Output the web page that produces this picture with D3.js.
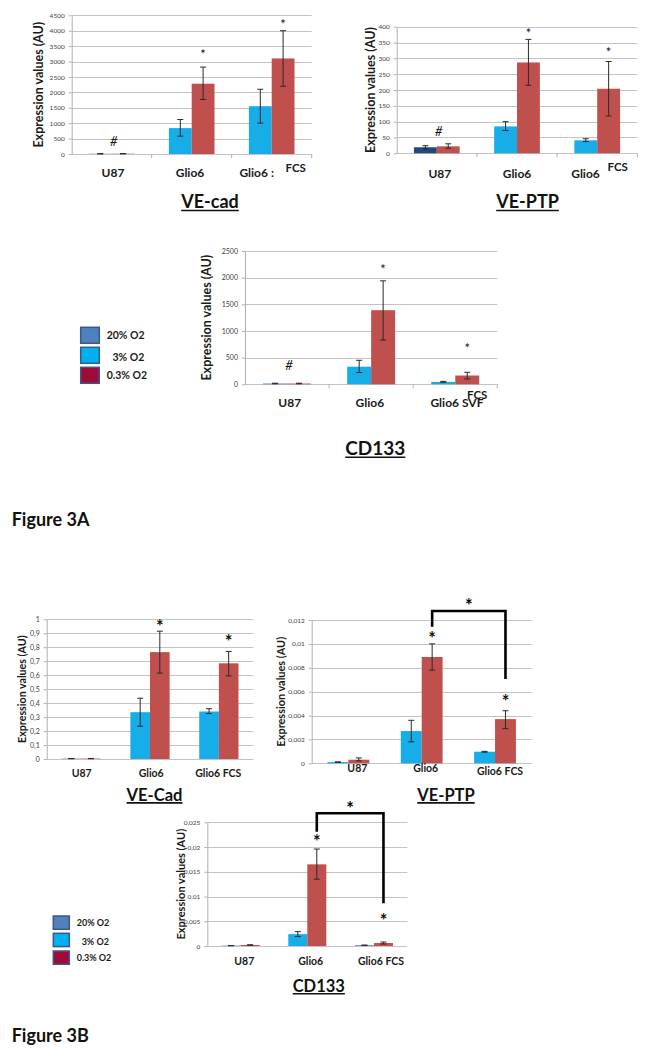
<!DOCTYPE html>
<html>
<head>
<meta charset="utf-8">
<script src="https://cdn.jsdelivr.net/npm/d3@7"></script>
<style>
  body { margin: 0; background: #fff; }
  svg { display: block; }
</style>
</head>
<body>
<div id="fig"></div>
<script>
// categories shared by every panel
const categories = ["U87", "Glio6", "Glio6 FCS"];
const legendLabels = ["20% O2", "3% O2", "0.3% O2"];

// ---------- Figure 3A ----------
// VE-cad
const veCadA_ticks = [0, 500, 1000, 1500, 2000, 2500, 3000, 3500, 4000, 4500];
const veCadA_tickLabels = ["0", "500", "1000", "1500", "2000", "2500", "3000", "3500", "4000", "4500"];
const veCadA_first = [8, 840, 1550];
const veCadA_firstErr = [[4, 12], [580, 1120], [1000, 2100]];
const veCadA_red = [10, 2280, 3100];
const veCadA_redErr = [[5, 15], [1770, 2820], [2200, 4000]];
const veCadA_marks = ["#", "*", "*"];
const veCadA_markY = [400, 3320, 4290];
const veCadA_labels = ["U87", "Glio6", "Glio6 :"];

// VE-PTP
const vePtpA_ticks = [0, 50, 100, 150, 200, 250, 300, 350, 400];
const vePtpA_tickLabels = ["0", "50", "100", "150", "200", "250", "300", "350", "400"];
const vePtpA_first = [19, 85, 41];
const vePtpA_firstErr = [[14, 24], [72, 100], [37, 46]];
const vePtpA_red = [22, 287, 204];
const vePtpA_redErr = [[16, 30], [215, 360], [118, 290]];
const vePtpA_marks = ["#", "*", "*"];
const vePtpA_markY = [70, 387, 326];
const vePtpA_labels = ["U87", "Glio6", "Glio6"];

// CD133
const cd133A_ticks = [0, 500, 1000, 1500, 2000, 2500];
const cd133A_tickLabels = ["0", "500", "1000", "1500", "2000", "2500"];
const cd133A_first = [15, 330, 45];
const cd133A_firstErr = [[10, 20], [220, 450], [38, 55]];
const cd133A_red = [15, 1390, 165];
const cd133A_redErr = [[10, 20], [830, 1940], [100, 225]];
const cd133A_marks = ["#", "*", "*"];
const cd133A_markY = [362, 2194, 718];
const cd133A_labels = ["U87", "Glio6", "Glio6 SVF"];

// ---------- Figure 3B ----------
// VE-Cad
const veCadB_ticks = [0, 0.1, 0.2, 0.3, 0.4, 0.5, 0.6, 0.7, 0.8, 0.9, 1];
const veCadB_tickLabels = ["0", "0,1", "0,2", "0,3", "0,4", "0,5", "0,6", "0,7", "0,8", "0,9", "1"];
const veCadB_first = [0.003, 0.335, 0.34];
const veCadB_firstErr = [[0.002, 0.004], [0.235, 0.435], [0.325, 0.36]];
const veCadB_red = [0.003, 0.765, 0.685];
const veCadB_redErr = [[0.002, 0.004], [0.615, 0.915], [0.595, 0.77]];
const veCadB_marks = ["", "*", "*"];
const veCadB_markY = [null, 0.971, 0.864];
const veCadB_labels = ["U87", "Glio6", "Glio6  FCS"];

// VE-PTP
const vePtpB_ticks = [0, 0.002, 0.004, 0.006, 0.008, 0.01, 0.012];
const vePtpB_tickLabels = ["0", "0,002", "0,004", "0,006", "0,008", "0,01", "0,012"];
const vePtpB_first = [0.0001, 0.0027, 0.00097];
const vePtpB_firstErr = [[0.00008, 0.00012], [0.0018, 0.0036], [0.00093, 0.001]];
const vePtpB_red = [0.0003, 0.0089, 0.0037];
const vePtpB_redErr = [[0.0002, 0.00045], [0.0078, 0.01], [0.0029, 0.0044]];
const vePtpB_marks = ["", "*", "*"];
const vePtpB_markY = [null, 0.01074, 0.00544];
const vePtpB_bracket = [0.01144, 0.01275, 0.00706, 0.01353]; // left end, top, right end, star
const vePtpB_labels = ["U87", "Glio6", "Glio6 FCS"];

// CD133
const cd133B_ticks = [0, 0.005, 0.01, 0.015, 0.02, 0.025];
const cd133B_tickLabels = ["0", "0,005", "0,01", "0,015", "0,02", "0,025"];
const cd133B_first = [0.00008, 0.0024, 0.00015];
const cd133B_firstErr = [[0.00006, 0.0001], [0.0019, 0.0029], [0.0001, 0.0002]];
const cd133B_red = [0.0002, 0.0165, 0.0006];
const cd133B_redErr = [[0.00015, 0.00025], [0.0135, 0.0196], [0.0004, 0.0008]];
const cd133B_marks = ["", "*", "*"];
const cd133B_markY = [null, 0.02177, 0.00592];
const cd133B_bracket = [0.0231, 0.02682, 0.00863, 0.0285];
const cd133B_labels = ["U87", "Glio6", "Glio6 FCS"];

const FONT = "Lato, 'Open Sans', sans-serif";
const CYAN = "#16ade9", RED = "#c0504d", NAVY = "#1f497d", MIDBLUE = "#4f81bd";

const svg = d3.select("#fig").append("svg")
  .attr("width", 651).attr("height", 1060)
  .style("font-family", FONT);

function drawChart(c) {
  var x = d3.scaleBand().domain(categories).range([c.left, c.right]);
  var y = d3.scaleLinear().domain([0, c.ticks[c.ticks.length - 1]]).range([c.bottom, c.top]);
  var bw = x.bandwidth() * 0.285;
  var g = svg.append("g");

  // grid lines
  g.selectAll(null).data(c.ticks).join("line")
    .attr("x1", c.left).attr("x2", c.right)
    .attr("y1", d => Math.round(y(d)) + 0.5).attr("y2", d => Math.round(y(d)) + 0.5)
    .attr("stroke", "#c3c3c3").attr("stroke-width", 1);

  // y axis
  var ax = g.append("g").attr("transform", "translate(" + c.left + ",0)")
    .call(d3.axisLeft(y).tickValues(c.ticks).tickSize(3).tickSizeOuter(0).tickPadding(4)
      .tickFormat((d, i) => c.tickLabels[i]));
  ax.select(".domain").attr("stroke", "#b0b0b0");
  ax.selectAll(".tick line").attr("stroke", "#b0b0b0");
  ax.selectAll(".tick text").attr("font-family", FONT).attr("font-size", c.tickFs)
    .attr("fill", "#404040");

  // category boundary ticks on the x axis
  if (c.xTicks) {
    g.selectAll(null).data(categories.slice(1).concat([null])).join("line")
      .attr("x1", d => d ? x(d) : c.right).attr("x2", d => d ? x(d) : c.right)
      .attr("y1", c.bottom).attr("y2", c.bottom + 4)
      .attr("stroke", "#b0b0b0");
  }

  // bars
  var series = [
    { vals: c.first, err: c.firstErr, k: 0 },
    { vals: c.red, err: c.redErr, k: 1 }
  ];
  series.forEach(function (s) {
    var bx = (d, i) => x(categories[i]) + x.bandwidth() / 2 - bw + s.k * bw;
    g.selectAll(null).data(s.vals).join("rect")
      .attr("x", bx).attr("width", bw)
      .attr("y", d => y(d)).attr("height", d => c.bottom - y(d))
      .attr("fill", (d, i) => s.k === 0 ? c.firstColors[i] : RED);
    // error bars
    var eg = g.selectAll(null).data(s.err).join("g").attr("stroke", "#2a2a2a").attr("stroke-width", 1);
    eg.append("line")
      .attr("x1", (d, i) => bx(d, i) + bw / 2).attr("x2", (d, i) => bx(d, i) + bw / 2)
      .attr("y1", d => y(d[0])).attr("y2", d => y(d[1]));
    eg.append("line")
      .attr("x1", (d, i) => bx(d, i) + bw / 2 - 3).attr("x2", (d, i) => bx(d, i) + bw / 2 + 3)
      .attr("y1", d => y(d[0])).attr("y2", d => y(d[0]));
    eg.append("line")
      .attr("x1", (d, i) => bx(d, i) + bw / 2 - 3).attr("x2", (d, i) => bx(d, i) + bw / 2 + 3)
      .attr("y1", d => y(d[1])).attr("y2", d => y(d[1]));
  });

  // significance marks
  c.marks.forEach(function (m, i) {
    if (!m) return;
    var cx = m === "#" ? x(categories[i]) + x.bandwidth() / 2 + 2 : x(categories[i]) + x.bandwidth() / 2 + bw / 2;
    var fs = m === "#" ? c.hashFs : c.starFs;
    g.append("text")
      .attr("x", cx).attr("y", y(c.markY[i]) + fs * (m === "#" ? 0.36 : 0.55))
      .attr("text-anchor", "middle")
      .attr("font-size", fs).attr("font-weight", c.starBold ? "bold" : "normal")
      .attr("font-style", m === "#" ? "italic" : "normal")
      .attr("fill", "#111").text(m);
  });

  // bracket between Glio6 and Glio6 FCS
  if (c.bracket) {
    var xl = x(categories[1]) + x.bandwidth() / 2 + bw / 2;
    var xr = x(categories[2]) + x.bandwidth() / 2 + bw / 2;
    g.append("path")
      .attr("d", "M" + xl + "," + y(c.bracket[0]) + "V" + y(c.bracket[1]) + "H" + xr + "V" + y(c.bracket[2]))
      .attr("fill", "none").attr("stroke", "#000").attr("stroke-width", 2.6);
    g.append("text")
      .attr("x", (xl + xr) / 2).attr("y", y(c.bracket[3]) + c.starFs * 0.55)
      .attr("text-anchor", "middle").attr("font-size", c.starFs).attr("font-weight", "bold")
      .text("*");
  }

  // category labels
  g.selectAll(null).data(c.labels).join("text")
    .attr("x", (d, i) => x(categories[i]) + x.bandwidth() / 2 + c.labelDx[i])
    .attr("y", (d, i) => c.labelY + (c.labelDy ? c.labelDy[i] : 0))
    .attr("text-anchor", "middle")
    .attr("font-size", c.labelFs).attr("font-weight", "bold").attr("fill", "#1a1a1a")
    .text(d => d);
  if (c.extra) {
    g.append("text")
      .attr("x", x(categories[2]) + x.bandwidth() / 2 + c.extra.dx).attr("y", c.extra.y)
      .attr("text-anchor", "middle").attr("font-size", c.labelFs - 0.5).attr("font-weight", "bold")
      .attr("fill", "#1a1a1a").text(c.extra.text);
  }

  // y axis title
  g.append("text")
    .attr("transform", "translate(" + c.ylabX + "," + ((c.top + c.bottom) / 2) + ") rotate(-90)")
    .attr("text-anchor", "middle").attr("dominant-baseline", "central")
    .attr("font-size", c.ylabFs).attr("font-weight", "bold").attr("fill", "#1a1a1a")
    .text("Expression values (AU)");
}

function drawTitle(text, cx, baseline, fs) {
  var t = svg.append("text")
    .attr("x", cx).attr("y", baseline).attr("text-anchor", "middle")
    .attr("font-size", fs).attr("font-weight", "bold").attr("fill", "#111").text(text);
  var w = t.node().getComputedTextLength();
  svg.append("line")
    .attr("x1", cx - w / 2).attr("x2", cx + w / 2)
    .attr("y1", baseline + 2.2).attr("y2", baseline + 2.2)
    .attr("stroke", "#111").attr("stroke-width", 1.6);
}

function drawLegend(left, tops, bw, bh, textX, fs) {
  var fills = [MIDBLUE, "#00b0f0", "#a00a38"];
  tops.forEach(function (t, i) {
    svg.append("rect").attr("x", left).attr("y", t).attr("width", bw).attr("height", bh)
      .attr("fill", fills[i]).attr("stroke", "#3b5a86").attr("stroke-width", 1.5);
    svg.append("text").attr("x", textX + (i === 1 ? fs * 0.55 : 0)).attr("y", t + bh / 2 + fs * 0.36 + (i === 1 ? 2 : 0))
      .attr("font-size", fs).attr("font-weight", "bold").attr("fill", "#1a1a1a")
      .text(legendLabels[i]);
  });
}

// ---- Figure 3A panels ----
drawChart({
  left: 71.7, right: 311.7, top: 15.3, bottom: 154,
  ticks: veCadA_ticks, tickLabels: veCadA_tickLabels, tickFs: 6.5,
  first: veCadA_first, firstErr: veCadA_firstErr, red: veCadA_red, redErr: veCadA_redErr,
  firstColors: [MIDBLUE, CYAN, CYAN],
  marks: veCadA_marks, markY: veCadA_markY, starFs: 13, hashFs: 13, starBold: false,
  labels: veCadA_labels, labelDx: [1.3, -1.7, -15], labelY: 176.7, labelFs: 12,
  extra: { text: "FCS", dx: 24, y: 171.7 },
  xTicks: true, ylabX: 38, ylabFs: 12.5
});
drawChart({
  left: 396.7, right: 637.3, top: 26.7, bottom: 153.3,
  ticks: vePtpA_ticks, tickLabels: vePtpA_tickLabels, tickFs: 6.5,
  first: vePtpA_first, firstErr: vePtpA_firstErr, red: vePtpA_red, redErr: vePtpA_redErr,
  firstColors: [NAVY, CYAN, CYAN],
  marks: vePtpA_marks, markY: vePtpA_markY, starFs: 13, hashFs: 13, starBold: false,
  labels: vePtpA_labels, labelDx: [3, 0, -11.7], labelY: 178, labelFs: 12,
  extra: { text: "FCS", dx: 20.5, y: 171 },
  xTicks: true, ylabX: 370, ylabFs: 12.5
});
drawChart({
  left: 245, right: 497.3, top: 251, bottom: 384.3,
  ticks: cd133A_ticks, tickLabels: cd133A_tickLabels, tickFs: 7,
  first: cd133A_first, firstErr: cd133A_firstErr, red: cd133A_red, redErr: cd133A_redErr,
  firstColors: [MIDBLUE, CYAN, CYAN],
  marks: cd133A_marks, markY: cd133A_markY, starFs: 13, hashFs: 13, starBold: false,
  labels: cd133A_labels, labelDx: [2.7, -1.3, 1.7], labelY: 407.3, labelFs: 12,
  extra: { text: "FCS", dx: 22, y: 398.5 },
  xTicks: true, ylabX: 206.7, ylabFs: 12.5
});
drawTitle("VE-cad", 210, 208.3, 18);
drawTitle("VE-PTP", 527.5, 208.3, 18);
drawTitle("CD133", 375.3, 455, 19);
drawLegend(80.7, [327.3, 347.3, 367.3], 18.6, 16, 106.7, 10.5);
svg.append("text").attr("x", 11.7).attr("y", 525.5).attr("font-size", 18).attr("font-weight", "bold")
  .attr("fill", "#111").text("Figure 3A");

// ---- Figure 3B panels ----
drawChart({
  left: 46.7, right: 253.3, top: 619.3, bottom: 759,
  ticks: veCadB_ticks, tickLabels: veCadB_tickLabels, tickFs: 7,
  first: veCadB_first, firstErr: veCadB_firstErr, red: veCadB_red, redErr: veCadB_redErr,
  firstColors: [MIDBLUE, CYAN, CYAN],
  marks: veCadB_marks, markY: veCadB_markY, starFs: 18, hashFs: 13, starBold: true,
  labels: veCadB_labels, labelDx: [0.6, 1.2, -0.6], labelY: 777.3, labelFs: 10.5,
  xTicks: false, ylabX: 21.7, ylabFs: 10.7
});
drawChart({
  left: 311.7, right: 531.7, top: 620, bottom: 763.3,
  ticks: vePtpB_ticks, tickLabels: vePtpB_tickLabels, tickFs: 6.5,
  first: vePtpB_first, firstErr: vePtpB_firstErr, red: vePtpB_red, redErr: vePtpB_redErr,
  firstColors: [CYAN, CYAN, CYAN],
  marks: vePtpB_marks, markY: vePtpB_markY, starFs: 18, hashFs: 13, starBold: true,
  bracket: vePtpB_bracket,
  labels: vePtpB_labels, labelDx: [9, 4, 5], labelDy: [0, 0, 2.5], labelY: 772.3, labelFs: 10.5,
  xTicks: false, ylabX: 280, ylabFs: 10.9
});
drawChart({
  left: 207.3, right: 407.3, top: 822.3, bottom: 946,
  ticks: cd133B_ticks, tickLabels: cd133B_tickLabels, tickFs: 6.5,
  first: cd133B_first, firstErr: cd133B_firstErr, red: cd133B_red, redErr: cd133B_redErr,
  firstColors: [MIDBLUE, CYAN, MIDBLUE],
  marks: cd133B_marks, markY: cd133B_markY, starFs: 18, hashFs: 13, starBold: true,
  bracket: cd133B_bracket,
  labels: cd133B_labels, labelDx: [3.7, 3.4, 7], labelY: 965, labelFs: 10.5,
  xTicks: false, ylabX: 180, ylabFs: 11
});
drawTitle("VE-Cad", 154.5, 800.7, 16.5);
drawTitle("VE-PTP", 446, 800.7, 16.5);
drawTitle("CD133", 318.8, 991.5, 16.5);
drawLegend(53.3, [916, 933.3, 951], 16, 13.3, 76.7, 9);
svg.append("text").attr("x", 11.7).attr("y", 1042).attr("font-size", 18).attr("font-weight", "bold")
  .attr("fill", "#111").text("Figure 3B");
</script>
</body>
</html>
